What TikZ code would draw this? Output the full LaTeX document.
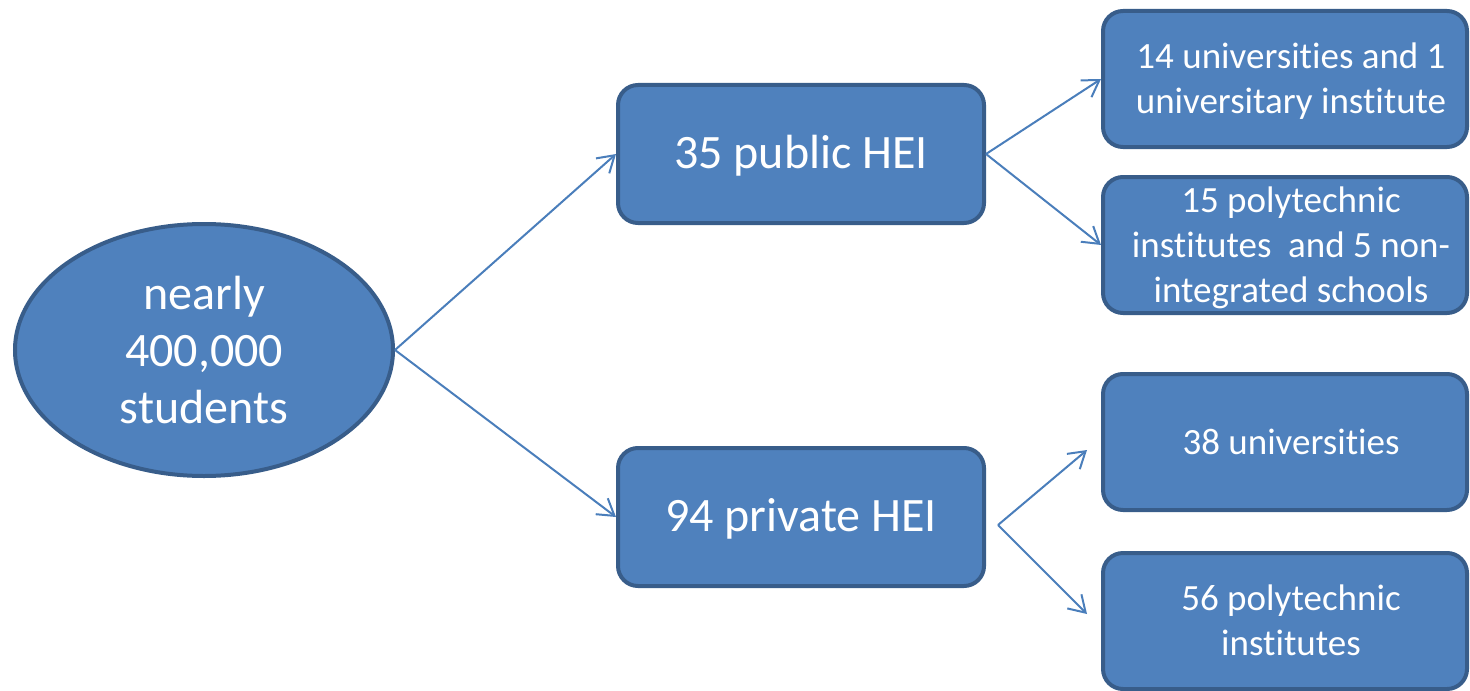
\documentclass[tikz,border=0pt]{standalone}
\usepackage{fontspec}
\setmainfont{Carlito}[Ligatures={NoCommon,NoContextual,NoRequired},Contextuals=NoAlternate]
\usetikzlibrary{positioning,calc,arrows.meta,shapes.geometric}
\definecolor{heifill}{HTML}{4F81BD}
\definecolor{heiline}{HTML}{385D8A}
\definecolor{heiarrow}{HTML}{4A7EBB}
\newcommand\heitext[2][0pt]{\hspace*{#1}\raisebox{-1.5pt}[\height][\depth]{\begin{tabular}{@{}c@{}}#2\end{tabular}}}
\tikzset{>={Straight Barb[length=8pt,width=10pt]}}
\tikzset{
  hei/.style={draw=heiline,fill=heifill,line width=2pt,text=white,inner sep=0pt,align=center},
  bigbox/.style={hei,rounded corners=10pt,minimum width=183pt,minimum height=69pt,font=\fontsize{24}{28.8}\selectfont},
  smallbox/.style={hei,rounded corners=10pt,minimum width=182pt,minimum height=68pt,font=\fontsize{18.5}{22.5}\selectfont},
  link/.style={->,draw=heiarrow,line width=1pt}
}

\begin{document}
\begin{tikzpicture}[x=0.5pt,y=-0.5pt]
\useasboundingbox (0,0) rectangle (1470,690);
\node[hei,ellipse,minimum width=189pt,minimum height=126pt,font=\fontsize{24}{28.5}\selectfont] (stud) at (204,350) {nearly\\400,000\\students};
\node[bigbox] (pub) at (801,154) {\heitext{35 public HEI}};
\node[bigbox] (prv) at (801,517) {\heitext{94 private HEI}};
\node[smallbox] (pubuni) at (1285,79) {\heitext[6pt]{14 universities and 1\\universitary institute}};
\node[smallbox] (pubpoly) at (1285,245) {\heitext[6pt]{15 polytechnic\\institutes\ \ and 5 non-\\integrated schools}};
\node[smallbox] (prvuni) at (1285,442) {\heitext[6pt]{38 universities}};
\node[smallbox] (prvpoly) at (1285,621) {\heitext[6pt]{56 polytechnic\\institutes}};
\coordinate (fork) at ($(prv.east)+(12,8)$);
\coordinate (tipuni) at ($(prvuni.west)+(-14,8)$);
\coordinate (tippoly) at ($(prvpoly.west)+(-14,-7)$);
\draw[link] (stud.east) -- (pub.west);
\draw[link] (stud.east) -- (prv.west);
\draw[link] (pub.east) -- (pubuni.west);
\draw[link] (pub.east) -- (pubpoly.west);
\draw[link] (fork) -- (tipuni);
\draw[link] (fork) -- (tippoly);
\end{tikzpicture}
\end{document}
